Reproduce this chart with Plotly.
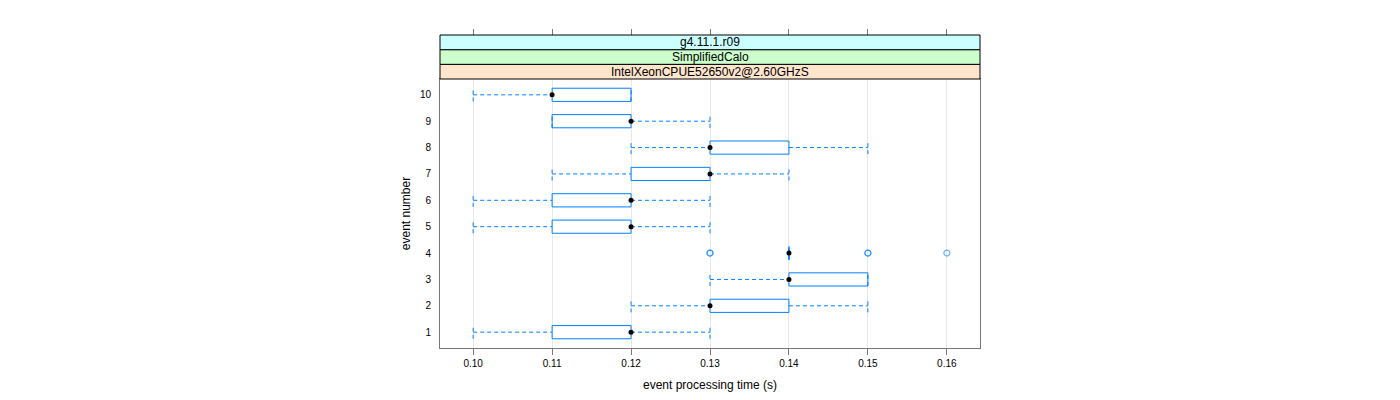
import plotly.graph_objects as go

# ---- data ----
events = [1, 2, 3, 4, 5, 6, 7, 8, 9, 10]
q1 = [0.11, 0.13, 0.14, 0.14, 0.11, 0.11, 0.12, 0.13, 0.11, 0.11]
med = [0.12, 0.13, 0.14, 0.14, 0.12, 0.12, 0.13, 0.13, 0.12, 0.11]
q3 = [0.12, 0.14, 0.15, 0.14, 0.12, 0.12, 0.13, 0.14, 0.12, 0.12]
wlo = [0.10, 0.12, 0.13, 0.14, 0.10, 0.10, 0.11, 0.12, 0.11, 0.10]
whi = [0.13, 0.15, 0.15, 0.14, 0.13, 0.13, 0.14, 0.15, 0.13, 0.12]
outlier_event = [4, 4, 4, 4, 4]
outlier_value = [0.13, 0.13, 0.15, 0.15, 0.16]
x_ticks = [0.10, 0.11, 0.12, 0.13, 0.14, 0.15, 0.16]
x_ticklabels = ["0.10", "0.11", "0.12", "0.13", "0.14", "0.15", "0.16"]
strip_labels = ["IntelXeonCPUE52650v2@2.60GHzS", "SimplifiedCalo", "g4.11.1.r09"]
strip_colors = ["#ffe5cc", "#ccffcc", "#ccffff"]

BLUE = "#0080ff"
HALF = 0.25
FONT = "Liberation Sans, Arial, sans-serif"

# box outlines
bx, by = [], []
for e, a, b in zip(events, q1, q3):
    bx += [a, b, b, a, a, None]
    by += [e - HALF, e - HALF, e + HALF, e + HALF, e - HALF, None]

# whiskers + caps
wx, wy = [], []
for e, lo, a, b, hi in zip(events, wlo, q1, q3, whi):
    if lo < a:
        wx += [lo, a, None]
        wy += [e, e, None]
    if hi > b:
        wx += [b, hi, None]
        wy += [e, e, None]
    wx += [lo, lo, None, hi, hi, None]
    wy += [e - HALF, e + HALF, None, e - HALF, e + HALF, None]

fig = go.Figure()
fig.add_trace(go.Scatter(x=wx, y=wy, mode="lines",
                         line=dict(color=BLUE, width=1, dash="4px,3px"),
                         hoverinfo="skip", showlegend=False))
fig.add_trace(go.Scatter(x=bx, y=by, mode="lines",
                         line=dict(color=BLUE, width=1),
                         hoverinfo="skip", showlegend=False))
fig.add_trace(go.Scatter(x=outlier_value, y=outlier_event, mode="markers",
                         marker=dict(symbol="circle-open", size=6, color=BLUE,
                                     opacity=0.6, line=dict(width=1.2, color=BLUE)),
                         showlegend=False))
fig.add_trace(go.Scatter(x=med, y=events, mode="markers",
                         marker=dict(symbol="circle", size=5, color="black"),
                         showlegend=False))
# hidden trace to enable top axis
fig.add_trace(go.Scatter(x=[x_ticks[0]], y=[events[0]], xaxis="x2", mode="markers",
                         marker=dict(opacity=0), hoverinfo="skip", showlegend=False))

# layout geometry (page body has an 8px margin)
OFF = 8
W, H = 1400 - OFF, 400 - OFF
ml, mt = 440 - OFF, 34 - OFF + 1
panel_w = 980 - 440
plot_h = 347 - 34
mr = W - ml - panel_w
mb = H - mt - plot_h
panel_h = 347 - 78
dom_top = panel_h / plot_h
strip_h = (1 - dom_top) / 3

shapes = []
annotations = []
for i, (lab, col) in enumerate(zip(strip_labels, strip_colors)):
    y0 = dom_top + i * strip_h
    y1 = y0 + strip_h
    shapes.append(dict(type="rect", xref="paper", yref="paper", x0=0, x1=1, y0=y0, y1=y1,
                       fillcolor=col, line=dict(color="black", width=1), layer="above"))
    annotations.append(dict(text=lab, xref="paper", yref="paper", x=0.5, y=(y0 + y1) / 2,
                            showarrow=False, font=dict(family=FONT, size=12, color="black"),
                            yanchor="middle", xanchor="center"))

xr = [0.0958, 0.1642]
fig.update_layout(
    width=W, height=H,
    margin=dict(l=ml, r=mr, t=mt, b=mb, autoexpand=False),
    paper_bgcolor="white", plot_bgcolor="white",
    font=dict(family=FONT, size=10, color="black"),
    shapes=shapes, annotations=annotations,
    xaxis=dict(range=xr, tickvals=x_ticks, ticktext=x_ticklabels,
               showgrid=True, gridcolor="#e8e8e8", gridwidth=1,
               zeroline=False, showline=True, linecolor="#777777", linewidth=1, mirror=True,
               ticks="outside", ticklen=6, tickcolor="#777777",
               tickfont=dict(family=FONT, size=10, color="black"),
               title=dict(text="event processing time (s)", font=dict(family=FONT, size=12), standoff=12)),
    xaxis2=dict(range=xr, tickvals=x_ticks, overlaying="x", side="top", anchor="free",
                position=1, showticklabels=False, showgrid=False, zeroline=False,
                ticks="outside", ticklen=6, tickcolor="#777777", showline=False),
    yaxis=dict(range=[0.4, 10.6], domain=[0, dom_top], tickvals=events,
               ticktext=[str(e) for e in events],
               showgrid=False, zeroline=False, showline=True, linecolor="#777777",
               linewidth=1, mirror=True, ticks="outside", ticklen=6,
               tickcolor="rgba(0,0,0,0)",
               tickfont=dict(family=FONT, size=10, color="black"),
               title=dict(text="event number", font=dict(family=FONT, size=12), standoff=6)),
)

fig.write_html("out.html")
